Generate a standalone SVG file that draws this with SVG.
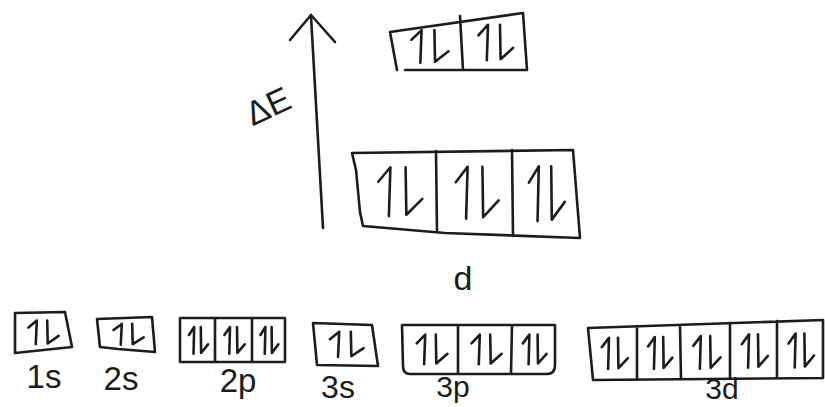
<svg xmlns="http://www.w3.org/2000/svg" xmlns:xlink="http://www.w3.org/1999/xlink" width="825" height="407" viewBox="0 0 825 407">
  <style>
    .ink { fill: none; stroke: #1c1c1c; stroke-width: 2.6; stroke-linecap: round; stroke-linejoin: round; }
    .lbl { font-family: "Liberation Sans", Arial, sans-serif; fill: #1c1c1c; text-anchor: middle; }
  </style>
  <defs>
    <!-- one orbital cell's electron pair: up half-arrow then down half-arrow -->
    <symbol id="pair" viewBox="0 0 100 100" preserveAspectRatio="none" overflow="visible">
      <path class="ink" vector-effect="non-scaling-stroke" d="M38,88 L40,14 L24,36"/>
      <path class="ink" vector-effect="non-scaling-stroke" d="M60,14 L61,86 L82,62"/>
    </symbol>
  </defs>
  <rect width="825" height="407" fill="#ffffff"/>

  <!-- energy axis -->
  <g id="axis">
    <path class="ink" d="M323,228 L311,16"/>
    <path class="ink" d="M290,40 L311,15 L335,42"/>
    <text class="lbl" x="268" y="118" font-size="34" transform="rotate(-25 268 106)">ΔE</text>
  </g>

  <!-- split upper level -->
  <g id="upper">
    <path class="ink" d="M397,70 L390,32 L523,13 L527,70 L405,70 M460,16 L463,70"/>
    <use xlink:href="#pair" x="396" y="24" width="64" height="44"/>
    <use xlink:href="#pair" x="464" y="18" width="60" height="48"/>
  </g>

  <!-- split lower level -->
  <g id="lower">
    <path class="ink" d="M352,153 L573,150 L580,238 L445,233 L363,226 L360,212 L356,170 L352,153 M436,151 L437,232 M512,150 L513,236"/>
    <use xlink:href="#pair" x="360" y="158" width="76" height="66"/>
    <use xlink:href="#pair" x="438" y="157" width="74" height="70"/>
    <use xlink:href="#pair" x="514" y="156" width="62" height="74"/>
    <text class="lbl" x="463" y="290" font-size="34">d</text>
  </g>

  <g id="o1s">
    <path class="ink" d="M15,313 L65,312 L72,347 L15,353 Z"/>
    <use xlink:href="#pair" x="16" y="316" width="52" height="32"/>
    <text class="lbl" x="44" y="388" font-size="33">1s</text>
  </g>

  <g id="o2s">
    <path class="ink" d="M97,319 L152,317 L155,352 L118,349 L100,347 Z"/>
    <use xlink:href="#pair" x="101" y="320" width="52" height="28"/>
    <text class="lbl" x="121" y="390" font-size="33">2s</text>
  </g>

  <g id="o2p">
    <path class="ink" d="M180,318 L285,318 L285,362 L180,362 Z M215,318 L215,362 M252,318 L252,362"/>
    <use xlink:href="#pair" x="181" y="322" width="33" height="36"/>
    <use xlink:href="#pair" x="216" y="322" width="35" height="36"/>
    <use xlink:href="#pair" x="253" y="322" width="31" height="36"/>
    <text class="lbl" x="238" y="392" font-size="33">2p</text>
  </g>

  <g id="o3s">
    <path class="ink" d="M313,323 L372,325 L378,366 L317,365 Z"/>
    <use xlink:href="#pair" x="316" y="327" width="58" height="34"/>
    <text class="lbl" x="338" y="398" font-size="32">3s</text>
  </g>

  <g id="o3p">
    <path class="ink" d="M402,325 L555,325 L555,365 Q555,374 547,374 L410,374 Q403,374 403,366 Z M458,325 L458,374 M512,325 L511,374"/>
    <use xlink:href="#pair" x="404" y="329" width="53" height="40"/>
    <use xlink:href="#pair" x="459" y="329" width="52" height="40"/>
    <use xlink:href="#pair" x="513" y="329" width="41" height="40"/>
    <text class="lbl" x="453" y="397" font-size="30">3p</text>
  </g>

  <g id="o3d">
    <path class="ink" d="M588,328 L823,320 L823,378 L593,380 Z M637,326 L637,379 M680,325 L681,379 M730,323 L730,379 M777,321 L777,378"/>
    <use xlink:href="#pair" x="591" y="332" width="45" height="42"/>
    <use xlink:href="#pair" x="638" y="331" width="42" height="43"/>
    <use xlink:href="#pair" x="682" y="330" width="47" height="44"/>
    <use xlink:href="#pair" x="731" y="328" width="45" height="45"/>
    <use xlink:href="#pair" x="778" y="327" width="44" height="46"/>
    <text class="lbl" x="722" y="399" font-size="30">3d</text>
  </g>
</svg>
